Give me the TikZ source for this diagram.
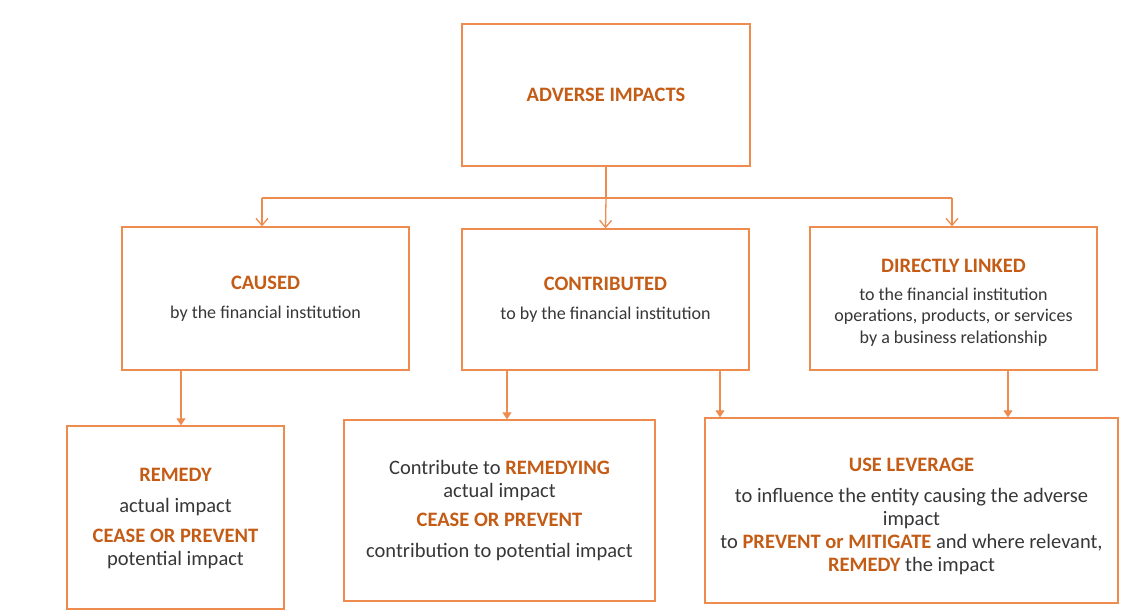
\documentclass[tikz,border=0pt]{standalone}
\usepackage{fontspec}
\setmainfont{Carlito}
\usetikzlibrary{arrows.meta}
\definecolor{edge}{RGB}{238,140,80}
\definecolor{head}{RGB}{196,92,22}
\definecolor{body}{RGB}{55,55,55}
\tikzset{
  box/.style={draw=edge, line width=1.4pt, rectangle, align=center, inner sep=0pt,
    text=body, font=\fontsize{20.5}{23}\selectfont},
  upper/.style={box, font=\fontsize{18}{21.5}\selectfont},
  link/.style={draw=edge, line width=1.3pt},
  openarrow/.style={link, -{Straight Barb[length=7pt,width=12pt,line width=1.3pt]}},
  fillarrow/.style={link, -{Triangle[length=7pt,width=9pt]}}
}
\newcommand{\hd}[1]{\textcolor{head}{\bfseries #1}}
\newcommand{\hdbig}[1]{\textcolor{head}{\fontsize{20.5}{23}\selectfont\bfseries #1}}
\begin{document}
\begin{tikzpicture}[x=1pt,y=-1pt]
\useasboundingbox[fill=white] (0,0) rectangle (1127,611);

% top level
\node[box, minimum width=288pt, minimum height=142pt] (top) at (606,95)
  {\hd{ADVERSE IMPACTS}};

% middle level
\node[upper, minimum width=287pt, minimum height=143pt] (caused) at (265.5,298.5)
  {\hdbig{CAUSED}\\[7pt] by the financial institution};
\node[upper, minimum width=287pt, minimum height=141pt] (contrib) at (605.5,299.5)
  {\hdbig{CONTRIBUTED}\\[7pt] to by the financial institution};
\node[upper, minimum width=287pt, minimum height=143pt] (linked) at (953.5,298.5)
  {\rule{0pt}{21.5pt}\hdbig{DIRECTLY LINKED}\\[6pt] to the financial institution\\ operations, products, or services\\ by a business relationship};

% bottom level
\node[box, minimum width=217pt, minimum height=183pt] (remedy) at (175.5,517.5)
  {\rule{0pt}{16pt}\hd{REMEDY}\\[8pt] actual impact\\[7pt] \hd{CEASE OR PREVENT}\\ potential impact};
\node[box, minimum width=311pt, minimum height=181pt] (contremedy) at (499.5,510.5)
  {Contribute to \hd{REMEDYING}\\ actual impact\\[6pt] \hd{CEASE OR PREVENT}\\[8pt] contribution to potential impact};
\node[box, minimum width=413pt, minimum height=185pt] (leverage) at (911.5,510.5)
  {\rule{0pt}{26pt}\hd{USE LEVERAGE}\\[8pt] to influence the entity causing the adverse\\ impact\\ to \hd{PREVENT or MITIGATE} and where relevant,\\ \hd{REMEDY} the impact};

% distribution bus under the top box
\coordinate (busL) at (262,198);
\coordinate (busR) at (952,198);
\draw[link] (top.south) -- (top.south |- busL);
\draw[link] (busL) -- (busR);
\draw[openarrow] (busL) -- (busL |- caused.north);
\draw[openarrow] (top.south |- busL) -- (contrib.north);
\draw[openarrow] (busR) -- (busR |- linked.north);

% drops to the responses
\coordinate (dA) at (181,370);
\coordinate (dB) at (507,370);
\coordinate (dC) at (720,370);
\coordinate (dD) at (1008,370);
\draw[fillarrow] (dA) -- (dA |- remedy.north);
\draw[fillarrow] (dB) -- (dB |- contremedy.north);
\draw[fillarrow] (dC) -- (dC |- leverage.north);
\draw[fillarrow] (dD) -- (dD |- leverage.north);
\end{tikzpicture}
\end{document}
